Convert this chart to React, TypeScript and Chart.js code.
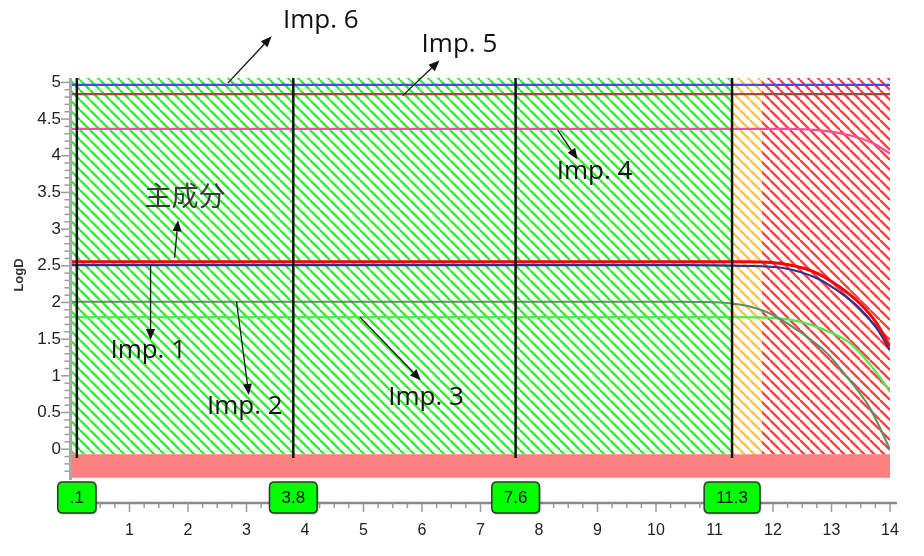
import { useEffect, useRef } from 'react';
import { Chart, registerables } from 'chart.js';
Chart.register(...registerables);

// ---- data ----
const markerTimes = [0.1, 3.8, 7.6, 11.3];
const markerLabels = ['.1', '3.8', '7.6', '11.3'];
const xTickValues = [1, 2, 3, 4, 5, 6, 7, 8, 9, 10, 11, 12, 13, 14];
const yTickValues = [0, 0.5, 1, 1.5, 2, 2.5, 3, 3.5, 4, 4.5, 5];

const mainX = [0, 10.75, 11.6, 12.29, 12.75, 13.14, 13.48, 13.77, 14];
const mainY = [2.555, 2.555, 2.555, 2.51, 2.4, 2.21, 1.99, 1.72, 1.4];
const imp1X = [0, 10.5, 11.5, 12.17, 12.75, 13.14, 13.48, 13.77, 14];
const imp1Y = [2.51, 2.51, 2.5, 2.47, 2.33, 2.14, 1.92, 1.65, 1.35];
const imp2X = [0, 10.4, 11.26, 11.89, 12.46, 12.92, 13.31, 13.65, 14];
const imp2Y = [2.01, 2.01, 1.99, 1.87, 1.6, 1.31, 0.94, 0.57, 0.0];
const imp3X = [0, 11.5, 12.34, 13.02, 13.31, 13.6, 13.83, 14];
const imp3Y = [1.8, 1.8, 1.76, 1.58, 1.45, 1.21, 0.98, 0.78];
const imp4X = [0, 12.3, 13.31, 13.71, 14];
const imp4Y = [4.366, 4.366, 4.28, 4.17, 4.03];
const imp5X = [0, 14];
const imp5Y = [4.84, 4.84];
const imp6X = [0, 14];
const imp6Y = [4.965, 4.965];

const regionStarts = [0, 11.3, 11.81];
const regionEnds = [11.3, 11.81, 14];
const hatchTop = 5.06;
const hatchBottom = -0.07;
const bandTop = -0.07;
const bandBottom = -0.39;
const markerLineTop = 5.06;
const markerLineBottom = -0.12;

const annoTexts = ['Imp. 6', 'Imp. 5', 'Imp. 4', '主成分', 'Imp. 1', 'Imp. 2', 'Imp. 3'];
const annoTextX = [4.27, 6.64, 8.95, 1.95, 1.32, 2.97, 6.07];
const annoTextY = [5.84, 5.52, 3.78, 3.46, 1.35, 0.58, 0.7];
const arrowFromX = [2.68, 5.67, 8.32, 1.77, 1.36, 2.83, 4.94];
const arrowFromY = [4.99, 4.82, 4.35, 2.61, 2.51, 2.01, 1.8];
const arrowToX = [3.43, 6.3, 8.66, 1.83, 1.36, 3.04, 5.98];
const arrowToY = [5.63, 5.3, 3.95, 3.12, 1.49, 0.74, 0.94];

const zip = (xs: number[], ys: number[]) => xs.map((x, i) => ({ x, y: ys[i] }));

function makeHatch(ctx: CanvasRenderingContext2D, color: string) {
  const c = document.createElement('canvas');
  c.width = 10;
  c.height = 10;
  const g = c.getContext('2d')!;
  g.strokeStyle = color;
  g.lineWidth = 2.3;
  for (const o of [-10, 0, 10]) {
    g.beginPath();
    g.moveTo(o, 0);
    g.lineTo(o + 10, 10);
    g.stroke();
  }
  return ctx.createPattern(c, 'repeat')!;
}

function arrow(ctx: CanvasRenderingContext2D, x1: number, y1: number, x2: number, y2: number) {
  const a = Math.atan2(y2 - y1, x2 - x1);
  const hl = 11, hw = 4.5;
  const bx = x2 - hl * Math.cos(a), by = y2 - hl * Math.sin(a);
  ctx.strokeStyle = '#111';
  ctx.fillStyle = '#111';
  ctx.lineWidth = 1.3;
  ctx.beginPath();
  ctx.moveTo(x1, y1);
  ctx.lineTo(bx, by);
  ctx.stroke();
  ctx.beginPath();
  ctx.moveTo(x2, y2);
  ctx.lineTo(bx + hw * Math.sin(a), by - hw * Math.cos(a));
  ctx.lineTo(bx - hw * Math.sin(a), by + hw * Math.cos(a));
  ctx.closePath();
  ctx.fill();
}

function roundRect(ctx: CanvasRenderingContext2D, x: number, y: number, w: number, h: number, r: number) {
  ctx.beginPath();
  ctx.moveTo(x + r, y);
  ctx.lineTo(x + w - r, y);
  ctx.quadraticCurveTo(x + w, y, x + w, y + r);
  ctx.lineTo(x + w, y + h - r);
  ctx.quadraticCurveTo(x + w, y + h, x + w - r, y + h);
  ctx.lineTo(x + r, y + h);
  ctx.quadraticCurveTo(x, y + h, x, y + h - r);
  ctx.lineTo(x, y + r);
  ctx.quadraticCurveTo(x, y, x + r, y);
  ctx.closePath();
}

const decorPlugin = {
  id: 'decor',
  afterDraw(chart: any) {
    const ctx: CanvasRenderingContext2D = chart.ctx;
    const xs = chart.scales.x;
    const ys = chart.scales.y;
    const ca = chart.chartArea;
    ctx.save();

    // y axis line + ticks
    ctx.strokeStyle = '#a8a8a8';
    ctx.lineWidth = 3;
    ctx.beginPath();
    ctx.moveTo(ca.left - 0.5, ca.top);
    ctx.lineTo(ca.left - 0.5, ca.bottom);
    ctx.stroke();
    ctx.strokeStyle = '#9a9a9a';
    ctx.lineWidth = 1.5;
    for (let i = 0; i <= 50; i++) {
      const v = i / 10;
      const py = ys.getPixelForValue(v);
      const len = i % 5 === 0 ? 8 : 4.5;
      ctx.beginPath();
      ctx.moveTo(ca.left - 2, py);
      ctx.lineTo(ca.left - 2 - len, py);
      ctx.stroke();
    }
    for (let i = 1; i <= 3; i++) {
      const py = ys.getPixelForValue(-i / 10);
      ctx.beginPath();
      ctx.moveTo(ca.left - 2, py);
      ctx.lineTo(ca.left - 6.5, py);
      ctx.stroke();
    }

    // y title
    ctx.save();
    ctx.translate(19, 275);
    ctx.rotate(-Math.PI / 2);
    ctx.font = 'bold 13px "Liberation Sans", Arial, sans-serif';
    ctx.fillStyle = '#333';
    ctx.textAlign = 'center';
    ctx.textBaseline = 'middle';
    ctx.fillText('LogD', 0, 0);
    ctx.restore();

    // x axis line + ticks
    const axisY = ca.bottom + 23;
    ctx.strokeStyle = '#8a8a8a';
    ctx.lineWidth = 2.5;
    ctx.beginPath();
    ctx.moveTo(ca.left - 13, axisY);
    ctx.lineTo(xs.getPixelForValue(14.12), axisY);
    ctx.stroke();
    ctx.strokeStyle = '#9a9a9a';
    ctx.lineWidth = 1.5;
    for (let i = 0; i <= 56; i++) {
      const v = i / 4;
      const px = xs.getPixelForValue(v);
      const len = i % 4 === 0 ? 9 : 5;
      ctx.beginPath();
      ctx.moveTo(px, axisY);
      ctx.lineTo(px, axisY + len);
      ctx.stroke();
    }

    // marker boxes
    ctx.font = '17px "Liberation Sans", Arial, sans-serif';
    markerTimes.forEach((t, i) => {
      const px = xs.getPixelForValue(t);
      const w = ctx.measureText(markerLabels[i]).width + 24;
      const h = 31;
      const top = ca.bottom + 2;
      ctx.save();
      ctx.shadowColor = 'rgba(0,0,0,0.45)';
      ctx.shadowBlur = 2;
      ctx.shadowOffsetX = 1;
      ctx.shadowOffsetY = 1;
      roundRect(ctx, px - w / 2, top, w, h, 5);
      ctx.fillStyle = '#00ff00';
      ctx.fill();
      ctx.restore();
      roundRect(ctx, px - w / 2, top, w, h, 5);
      ctx.strokeStyle = '#2a3a2a';
      ctx.lineWidth = 1.5;
      ctx.stroke();
      ctx.fillStyle = '#111';
      ctx.textAlign = 'center';
      ctx.textBaseline = 'middle';
      ctx.fillText(markerLabels[i], px, top + h / 2 + 1);
    });

    // annotations
    annoTexts.forEach((txt, i) => {
      const fx = xs.getPixelForValue(arrowFromX[i]);
      const fy = ys.getPixelForValue(arrowFromY[i]);
      const tx = xs.getPixelForValue(arrowToX[i]);
      const ty = ys.getPixelForValue(arrowToY[i]);
      arrow(ctx, fx, fy, tx, ty);
      const lx = xs.getPixelForValue(annoTextX[i]);
      const ly = ys.getPixelForValue(annoTextY[i]);
      ctx.font = txt === '主成分'
        ? '27px "Noto Sans CJK SC", sans-serif'
        : '26px "Open Sans", "DejaVu Sans", sans-serif';
      ctx.fillStyle = txt === '主成分' ? '#3a3a3a' : '#111';
      ctx.textAlign = 'center';
      ctx.textBaseline = 'middle';
      ctx.fillText(txt, lx, ly);
    });
    ctx.restore();
  },
};

export default function App() {
  const ref = useRef<HTMLCanvasElement>(null);
  useEffect(() => {
    const canvas = ref.current!;
    const ctx = canvas.getContext('2d')!;
    const hatchColors = ['#33ee33', '#ffc446', '#ff4040'];
    const patterns = hatchColors.map((c) => makeHatch(ctx, c));

    const fillSets = regionStarts.map((s, i) => ({
      type: 'line' as const,
      data: [{ x: s, y: hatchTop }, { x: regionEnds[i], y: hatchTop }],
      fill: { value: hatchBottom },
      backgroundColor: patterns[i],
      borderWidth: 0,
      pointRadius: 0,
      order: 10,
    }));
    const bandSet = {
      type: 'line' as const,
      data: [{ x: 0, y: bandTop }, { x: 14, y: bandTop }],
      fill: { value: bandBottom },
      backgroundColor: '#ff8080',
      borderWidth: 0,
      pointRadius: 0,
      order: 10,
    };
    const markerSets = markerTimes.map((t) => ({
      type: 'line' as const,
      data: [{ x: t, y: markerLineTop }, { x: t, y: markerLineBottom }],
      borderColor: '#111',
      borderWidth: 2.5,
      pointRadius: 0,
      fill: false,
      order: 1,
    }));
    const line = (xs: number[], ys: number[], color: string, w: number, order = 2) => ({
      type: 'line' as const,
      data: zip(xs, ys),
      borderColor: color,
      borderWidth: w,
      pointRadius: 0,
      fill: false,
      cubicInterpolationMode: 'monotone' as const,
      order,
    });

    const chart = new Chart(canvas, {
      type: 'line',
      data: {
        datasets: [
          line(mainX, mainY, '#ff0000', 3, 2),
          line(imp1X, imp1Y, '#2f2f8f', 2.2, 3),
          line(imp2X, imp2Y, '#5e8f5e', 2, 3),
          line(imp3X, imp3Y, '#4cee4c', 2.2, 3),
          line(imp4X, imp4Y, '#ff4aa0', 2.2, 3),
          line(imp5X, imp5Y, '#9a4a4a', 2.2, 3),
          line(imp6X, imp6Y, '#4a4af5', 2.2, 3),
          ...markerSets,
          bandSet,
          ...fillSets,
        ] as any,
      },
      options: {
        responsive: false,
        animation: false,
        layout: { padding: { top: 78, right: 34, bottom: 0, left: 0 } },
        plugins: { legend: { display: false }, tooltip: { enabled: false } },
        scales: {
          x: {
            type: 'linear',
            min: 0,
            max: 14,
            afterFit: (s: any) => { s.height = 76; s.paddingLeft = 0; s.paddingRight = 0; },
            afterBuildTicks: (s: any) => { s.ticks = xTickValues.map((v) => ({ value: v })); },
            grid: { display: false, drawTicks: false },
            border: { display: false },
            ticks: {
              padding: 41,
              color: '#222',
              font: { family: '"Liberation Sans", Arial, sans-serif', size: 16 },
              autoSkip: false,
              maxRotation: 0,
            },
          },
          y: {
            type: 'linear',
            min: -0.42,
            max: 5.06,
            afterFit: (s: any) => { s.width = 71; s.paddingTop = 0; s.paddingBottom = 0; },
            afterBuildTicks: (s: any) => { s.ticks = yTickValues.map((v) => ({ value: v })); },
            grid: { display: false, drawTicks: false },
            border: { display: false },
            ticks: {
              padding: 10,
              color: '#222',
              font: { family: '"Liberation Sans", Arial, sans-serif', size: 17 },
              callback: (v: any) => String(v),
            },
          },
        },
      },
      plugins: [decorPlugin],
    });
    return () => chart.destroy();
  }, []);
  return (
    <div style={{ position: 'fixed', left: 0, top: 0, width: 924, height: 556, background: '#fff' }}>
      <canvas ref={ref} width={924} height={556} />
    </div>
  );
}
